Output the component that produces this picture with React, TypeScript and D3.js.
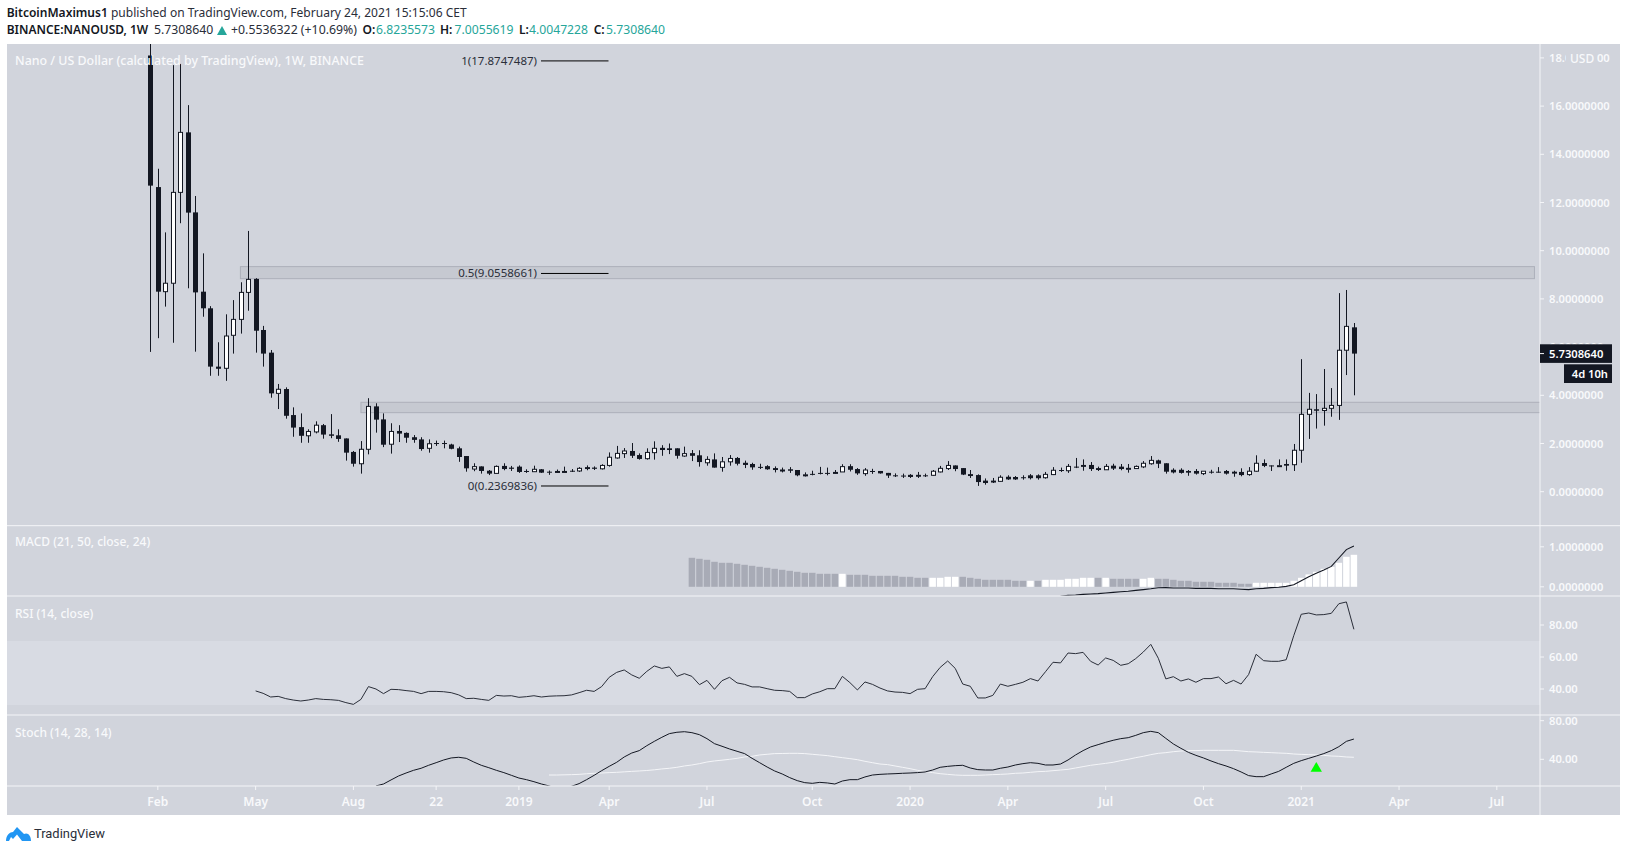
import React from "react";
import * as d3 from "d3";

const opens = [18.1,12.64,8.3,8.65,12.42,14.91,11.59,8.3,7.61,5.19,
5.12,6.49,7.15,8.27,8.83,6.71,5.77,4.08,4.26,3.18,
2.68,2.32,2.48,2.76,2.38,2.34,2.21,1.65,1.16,1.76,
3.54,3.0,1.97,2.52,2.44,2.26,2.17,1.8,2.02,2.02,
1.96,1.8,1.48,.94,1.05,.87,.76,1.07,1.0,1.04,
.86,.83,.93,.83,.83,.84,.87,.86,1.02,1.0,
.95,1.09,1.4,1.58,1.69,1.52,1.37,1.62,1.82,1.8,
1.8,1.48,1.6,1.51,1.2,1.34,1.01,1.24,1.4,1.2,
1.15,1.03,1.06,.98,.9,.93,.9,.7,.74,.78,
.78,.8,.82,1.06,.94,.75,.86,.86,.78,.68,
.67,.7,.7,.68,.68,.82,.96,1.09,.98,.73,
.69,.46,.46,.43,.62,.61,.6,.68,.68,.58,
.71,.9,.87,1.04,1.11,1.11,.98,.91,1.08,1.04,
.97,.96,1.03,1.16,1.3,1.18,.91,.91,.86,.86,
.75,.83,.83,.86,.83,.82,.71,.85,1.19,1.09,
1.08,1.15,1.12,1.72,3.21,3.42,3.37,3.46,3.58,5.87,6.82];
const closes = [12.7,8.3,8.65,12.42,14.91,11.58,8.27,7.61,5.19,5.1,
6.46,7.15,8.27,8.81,6.68,5.73,4.08,4.25,3.15,2.66,
2.32,2.5,2.76,2.37,2.32,2.19,1.62,1.16,1.76,3.54,
2.99,1.95,2.5,2.41,2.24,2.15,1.77,1.99,2.0,1.98,
1.78,1.44,.97,1.04,.86,.75,1.05,.94,.95,.82,
.84,.93,.79,.8,.84,.84,.83,.97,.94,.95,
1.09,1.43,1.59,1.69,1.49,1.36,1.63,1.8,1.73,1.73,
1.49,1.58,1.49,1.23,1.34,1.0,1.24,1.38,1.16,1.11,
1.01,1.02,.93,.9,.9,.87,.68,.7,.71,.74,
.76,.8,1.04,.91,.76,.9,.84,.76,.67,.66,
.66,.61,.62,.67,.85,.97,1.09,.94,.71,.65,
.4,.36,.38,.6,.51,.51,.58,.56,.56,.72,
.89,.88,1.05,1.03,1.03,.94,.9,1.05,.96,.94,
.97,1.05,1.18,1.3,1.16,.83,.8,.78,.79,.75,
.85,.82,.82,.75,.75,.69,.85,1.18,1.07,1.07,
1.08,1.08,1.72,3.21,3.42,3.36,3.46,3.58,5.87,6.86,5.73];
const highs = [21,13.4,10.76,17.7,17.75,16.04,12.27,9.89,7.7,6.2,
7.36,7.95,8.69,10.82,8.86,6.88,5.88,4.47,4.33,3.5,
3.25,2.59,2.92,2.81,3.22,2.59,2.21,1.69,2.1,3.88,
3.67,3.25,2.84,2.76,2.46,2.35,2.26,2.17,2.12,2.12,
1.99,1.87,1.48,1.18,1.05,.9,1.09,1.18,1.07,1.09,
.93,1.08,.94,.88,.92,1.04,.94,1.02,1.09,1.05,
1.14,1.63,1.9,1.81,2.02,1.59,1.8,2.09,1.93,2.0,
1.8,1.87,1.73,1.72,1.47,1.59,1.44,1.52,1.44,1.29,
1.2,1.16,1.1,1.05,1.0,1.02,.9,.8,.87,1.03,
1.0,.9,1.14,1.14,.98,.98,.95,.86,.78,.76,
.75,.73,.82,.75,.9,1.07,1.27,1.09,.98,.9,
.72,.55,.57,.68,.68,.65,.68,.73,.72,.82,
1.02,1.0,1.15,1.4,1.34,1.23,1.04,1.15,1.16,1.15,
1.15,1.09,1.27,1.48,1.33,1.18,.97,.97,.9,.94,
.85,.91,1.02,.9,.87,.97,1.02,1.51,1.34,1.09,
1.34,1.34,1.98,5.5,4.1,4.05,5.09,4.3,8.24,8.37,7.0];
const lows = [5.8,6.37,7.68,6.18,11.14,8.44,5.81,7.26,4.81,4.81,
4.6,5.73,6.56,7.51,5.77,5.19,3.9,3.43,3.03,2.28,
2.03,2.03,2.42,2.2,2.22,2.07,1.29,1.04,.75,1.55,
2.45,1.85,1.58,2.06,2.03,2.03,1.7,1.62,1.9,1.8,
1.76,1.24,.83,.85,.75,.69,.76,.89,.86,.78,
.78,.83,.78,.7,.78,.83,.82,.82,.89,.9,
.92,1.04,1.37,1.4,1.4,1.33,1.33,1.33,1.49,1.56,
1.37,1.45,1.27,1.04,1.08,1.0,.83,1.08,1.09,.98,
.91,.94,.91,.8,.8,.78,.64,.63,.68,.72,
.68,.74,.82,.84,.7,.66,.74,.75,.57,.61,
.57,.57,.57,.61,.66,.8,.9,.85,.69,.57,
.24,.29,.36,.42,.49,.49,.5,.51,.5,.54,
.69,.82,.78,.98,.87,.86,.86,.9,.9,.89,
.79,.96,.98,1.12,.98,.75,.76,.75,.66,.71,
.69,.75,.79,.71,.62,.64,.66,.83,1.02,.86,
1.04,.87,.86,1.2,2.19,2.62,2.74,3.11,2.98,4.84,4.0];

const macdHistStart = 72;
const macdHist = [.725,.7,.675,.625,.6,.6,.575,.55,.525,.5,.475,.45,.425,.4,.375,.35,.35,.325,.325,.325,.325,
.3,.3,.3,.275,.275,.275,.275,.25,.25,.225,.225,.225,.225,.25,.25,.25,.225,.2,.175,.175,.175,.175,.15,.15,.15,.15,
.175,.175,.175,.2,.2,.225,.225,.225,.225,.2,.2,.2,.2,.2,.225,.2,.2,.175,.15,.15,.125,.125,.125,.1,.1,.1,.075,.075,
.1,.1,.1,.1,.1,.15,.225,.31,.375,.45,.5,.6,.75,.8];
// true = rising histogram bar drawn white
const macdWhite = new Set([92,104,105,106,107,117,119,120,121,122,123,124,125,127,132,133,147,148,149,150,151,152,153,154,155,156,157,158,159,160]);
const macdLineStart = 120;
const macdLine = [-.26,-.24,-.215,-.205,-.19,-.18,-.17,-.155,-.14,-.125,-.11,-.09,-.07,-.05,-.025,-.02,-.03,-.03,-.03,-.04,-.04,-.04,-.05,-.05,-.05,-.06,-.07,-.05,-.04,-.02,-.01,.01,.05,.15,.25,.34,.42,.51,.72,.93,1.02];

const rsiStart = 14;
const rsi = [38.8,37.3,35.0,35.4,34.0,33.1,32.5,33.1,34.0,33.5,33.3,32.9,31.5,30.4,33.5,41.5,40.0,37.1,39.8,39.6,39.0,38.5,37.1,38.5,38.5,38.3,37.7,36.3,34.0,34.2,33.5,32.9,36.0,35.6,35.8,34.8,35.2,35.8,35.0,35.5,35.7,35.8,36.3,37.7,39.2,38.5,41.5,47.3,50.4,51.9,48.8,46.7,51.0,54.4,52.9,53.8,47.9,49.6,47.9,42.7,45.4,39.8,45.2,47.3,43.8,42.9,41.3,41.3,40.2,39.2,39.0,38.5,34.6,34.6,36.9,38.3,40.2,40.2,
47.9,44.0,39.4,44.4,42.9,40.6,38.8,38.1,37.9,37.1,39.8,40.2,47.7,53.5,57.5,52.9,43.1,41.7,34.4,34.4,36.0,43.1,41.7,42.9,44.2,46.5,45.0,50.8,56.7,56.3,62.5,62.1,62.9,57.3,55.0,59.4,57.9,54.8,55.8,59.0,63.1,67.9,59.2,46.3,47.7,45.0,46.3,44.2,46.5,46.5,47.5,43.3,45.4,43.1,49.0,61.7,57.7,57.3,57.3,58.3,73.3,86.7,87.5,86.3,86.5,87.3,93.3,94.4,77.3];

const stochKStart = 30;
const stochK = [12.4,14.4,18.6,22.7,25.8,28.6,30.7,33.8,36.5,39.3,41.4,42.1,41.0,37.2,33.8,31.3,28.6,26.2,23.4,20.6,18.9,16.8,14.4,12.4,9.9,9.9,12.0,14.8,18.9,23.4,28.2,32.7,36.9,42.4,46.5,49.0,54.1,58.6,62.8,66.6,68.0,68.6,67.6,65.5,61.4,56.2,53.5,50.7,48.3,45.9,41.0,36.5,32.0,27.9,24.8,21.0,17.9,15.8,15.1,16.1,15.5,14.4,17.5,18.9,18.9,21.7,23.7,24.4,
24.8,25.1,25.5,25.8,26.2,26.9,28.9,31.7,32.7,33.4,33.8,31.0,29.3,28.9,28.9,30.7,32.0,34.1,35.5,36.5,35.8,34.1,34.1,35.1,39.3,44.5,49.0,52.8,55.2,57.6,59.7,61.4,62.4,64.8,67.6,69.0,67.6,61.7,55.9,51.4,47.2,44.1,41.4,38.3,35.5,33.1,30.3,26.9,23.1,22.0,22.0,24.8,27.5,31.7,35.8,38.6,41.0,43.4,45.9,49.0,53.1,58.6,61.0];
const stochDStart = 53;
const stochD = [23.7,23.7,23.9,24.1,24.4,25.0,25.5,25.8,26.2,26.5,27.0,27.5,27.9,28.4,29.1,30.0,30.7,31.7,33.1,34.1,35.5,37.2,38.3,39.1,40.0,41.0,42.4,43.1,44.5,45.2,45.9,46.0,46.2,46.2,45.9,45.2,44.5,43.8,42.7,41.7,40.7,39.6,37.9,36.5,35.1,
34.5,33.1,31.7,30.3,28.6,27.2,26.2,25.1,24.4,23.7,23.4,23.4,23.4,23.7,24.1,24.4,24.8,25.5,25.8,26.5,27.2,27.5,28.2,28.9,29.6,31.0,32.4,33.8,34.8,35.8,36.9,38.6,40.0,41.7,43.1,44.8,46.2,46.9,47.9,48.6,49.0,49.0,49.3,49.3,49.3,49.3,49.3,48.6,47.9,47.6,47.2,46.9,46.5,46.2,45.5,45.1,44.8,44.5,44.1,43.4,43.1,42.4,42.1];
const stochSignalBars = [155];

const priceTicks = [0,2,4,6,8,10,12,14,16,18];
const macdTicks = [0,1];
const rsiTicks = [40,60,80];
const stochTicks = [40,80];
const timeTicks: [number,string][] = [[1,"Feb"],[14,"May"],[27,"Aug"],[38,"22"],[49,"2019"],[61,"Apr"],[74,"Jul"],[88,"Oct"],[101,"2020"],[114,"Apr"],[127,"Jul"],[140,"Oct"],[153,"2021"],[166,"Apr"],[179,"Jul"]];
const fibLevels: [string,number][] = [["1",17.8747487],["0.5",9.0558661],["0",0.2369836]];
const zones = [{lo:8.84,hi:9.34,from:11.98,to:184},{lo:3.28,hi:3.71,from:28,to:185}];
const lastClose = 5.7308640;

const BG="#d1d4dc", DARK="#131722", TXT="#f8f9fb", SEP="#f4f5f8", GRAY="#a8abb6";
const FONT="'Noto Sans', sans-serif";
const L=7,R=1620,AX=1540,TOP=44,BOT=815;
const paneMain={t:44,b:525.7}, paneMacd={t:526,b:596}, paneRsi={t:596.5,b:715}, paneStoch={t:715.5,b:786};

const x=d3.scaleLinear().domain([0,160]).range([150.3,1353.9]);
const y=d3.scaleLinear().domain([0,18]).range([491.7,57.9]);
const yMacd=d3.scaleLinear().domain([0,1]).range([586.8,546.8]);
const yRsi=d3.scaleLinear().domain([40,80]).range([689,625]);
const yStoch=d3.scaleLinear().domain([40,80]).range([759.3,720.7]);
const fmt=d3.format(".7f"), fmt2=d3.format(".2f");

const series=(vals:number[],start:number,sc:(v:number)=>number)=>
  d3.line<number>().x((_,i)=>x(i+start)).y(v=>sc(v))(vals)||"";

function AxisLabels({ticks,sc,f}:{ticks:number[];sc:(v:number)=>number;f:(v:number)=>string}){
  return <g>{ticks.map(t=><g key={t}>
    <line x1={AX} x2={AX+4} y1={sc(t)} y2={sc(t)} stroke={SEP}/>
    <text x={1549} y={sc(t)+4} fontSize={11.2} fill={TXT} fontFamily={FONT} fontWeight={600}>{f(t)}</text>
  </g>)}</g>;
}

export default function App(){
  const barW=5;
  return <svg width={1627} height={852} style={{position:"absolute",left:0,top:0,background:"#fff"}}>
    <defs>
      <clipPath id="cm"><rect x={L} y={paneMain.t} width={AX-L} height={paneMain.b-paneMain.t}/></clipPath>
      <clipPath id="cd"><rect x={L} y={paneMacd.t} width={AX-L} height={paneMacd.b-paneMacd.t}/></clipPath>
      <clipPath id="cs"><rect x={L} y={paneStoch.t} width={AX-L} height={paneStoch.b-paneStoch.t}/></clipPath>
    </defs>
    <text x={6.7} y={17} fontSize={12} fontFamily={FONT} fill="#2a2e39" textLength={460} lengthAdjust="spacingAndGlyphs"><tspan fontWeight={600} fill={DARK}>BitcoinMaximus1</tspan> published on TradingView.com, February 24, 2021 15:15:06 CET</text>
    <text x={6.7} y={34} fontSize={12} fontFamily={FONT} fill={DARK} textLength={141.5} lengthAdjust="spacingAndGlyphs" fontWeight={600}>BINANCE:NANOUSD, 1W</text>
    <text x={154} y={34} fontSize={12} fontFamily={FONT} fill="#2a2e39" textLength={59.4} lengthAdjust="spacingAndGlyphs">5.7308640</text>
    <path d="M217,35 L222,26 L227,35 Z" fill="#26a69a"/>
    <text x={231} y={34} fontSize={12} fontFamily={FONT} fill="#2a2e39" textLength={126} lengthAdjust="spacingAndGlyphs">+0.5536322 (+10.69%)</text>
    {[[362.5,"O:",376,"6.8235573"],[440,"H:",454.5,"7.0055619"],[519,"L:",529,"4.0047228"],[593.7,"C:",606,"5.7308640"]].map(([a,l,b,v])=><g key={l as string}>
      <text x={a as number} y={34} fontSize={12} fontFamily={FONT} fontWeight={600} fill={DARK}>{l}</text>
      <text x={b as number} y={34} fontSize={12} fontFamily={FONT} fill="#26a69a" textLength={59} lengthAdjust="spacingAndGlyphs">{v}</text>
    </g>)}

    <rect x={L} y={TOP} width={R-L} height={BOT-TOP} fill={BG}/>
    <rect x={L} y={yRsi(70)} width={AX-L} height={yRsi(30)-yRsi(70)} fill="#d8dbe3"/>

    <g clipPath="url(#cm)">
      {zones.map((z,i)=><rect key={i} x={x(z.from)} y={y(z.hi)} width={x(z.to)-x(z.from)} height={y(z.lo)-y(z.hi)} fill="#787b86" fillOpacity={0.12} stroke="#adb0ba" strokeWidth={1}/>)}
      {opens.map((o,i)=>{
        const c=closes[i], up=c>=o, top=y(Math.max(o,c)), bot=y(Math.min(o,c)), px=Math.round(x(i))+0.5;
        const h=Math.max(bot-top,1);
        return <g key={i}>
          <line x1={px} x2={px} y1={y(highs[i])} y2={y(lows[i])} stroke={DARK} strokeWidth={1}/>
          {up?<rect x={px-2} y={top} width={4} height={h} fill="#fff" stroke={DARK} strokeWidth={1}/>
             :<rect x={px-2.5} y={top} width={barW} height={h} fill={DARK}/>}
        </g>;
      })}
      {fibLevels.map(([n,v])=><g key={n}>
        <line x1={541} x2={608.5} y1={y(v)} y2={y(v)} stroke="#000" strokeWidth={1}/>
        <text x={537} y={y(v)+4} textAnchor="end" fontSize={11.5} fontFamily={FONT} fill="#2a2e39">{`${n}(${v.toFixed(7)})`}</text>
      </g>)}
    </g>
    <text x={15} y={65} fontSize={12} fontFamily={FONT} fontWeight={500} fill={TXT} textLength={349} lengthAdjust="spacingAndGlyphs">Nano / US Dollar (calculated by TradingView), 1W, BINANCE</text>

    <g clipPath="url(#cd)">
      {macdHist.map((v,i)=>{const k=i+macdHistStart;return <rect key={k} x={x(k)-3.25} y={yMacd(v)} width={6.5} height={yMacd(0)-yMacd(v)} fill={macdWhite.has(k)?"#ffffff":GRAY}/>;})}
      <path d={series(macdLine,macdLineStart,yMacd)} fill="none" stroke="#131722" strokeWidth={1.1}/>
    </g>
    <text x={15} y={546} fontSize={12} fontFamily={FONT} fontWeight={500} fill={TXT}>MACD (21, 50, close, 24)</text>

    <path d={series(rsi,rsiStart,yRsi)} fill="none" stroke="#2a2e39" strokeWidth={1}/>
    <text x={15} y={618} fontSize={12} fontFamily={FONT} fontWeight={500} fill={TXT}>RSI (14, close)</text>

    <g clipPath="url(#cs)">
      <path d={series(stochD,stochDStart,yStoch)} fill="none" stroke="#f4f5f8" strokeWidth={1}/>
      <path d={series(stochK,stochKStart,yStoch)} fill="none" stroke="#131722" strokeWidth={1}/>
      {stochSignalBars.map(k=><path key={k} d={d3.symbol().type(d3.symbolTriangle).size(56)()||""} transform={`translate(${x(k)},768.5)`} fill="#00ff00"/>)}
    </g>
    <text x={15} y={737} fontSize={12} fontFamily={FONT} fontWeight={500} fill={TXT}>Stoch (14, 28, 14)</text>

    {[paneMain.b,paneMacd.b,paneRsi.b,paneStoch.b].map(v=><line key={v} x1={L} x2={R} y1={v} y2={v} stroke={SEP}/>)}
    <line x1={AX} x2={AX} y1={TOP} y2={BOT} stroke={SEP}/>

    {timeTicks.map(([k,l])=><g key={k}>
      <line x1={x(k)} x2={x(k)} y1={786} y2={790} stroke={SEP}/>
      <text x={x(k)} y={806} textAnchor="middle" fontSize={12} fontFamily={FONT} fontWeight={600} fill={TXT}>{l}</text>
    </g>)}

    <AxisLabels ticks={priceTicks} sc={y} f={fmt}/>
    <rect x={1566} y={50} width={31} height={16} fill={BG}/>
    <text x={1570} y={63} fontSize={12} fontFamily={FONT} fontWeight={500} fill={TXT}>USD</text>
    <AxisLabels ticks={macdTicks} sc={yMacd} f={fmt}/>
    <AxisLabels ticks={rsiTicks} sc={yRsi} f={fmt2}/>
    <AxisLabels ticks={stochTicks} sc={yStoch} f={fmt2}/>

    <rect x={1540} y={y(lastClose)-9.3} width={72} height={18.6} fill={DARK}/>
    <line x1={1540} x2={1544} y1={y(lastClose)} y2={y(lastClose)} stroke={SEP}/>
    <text x={1549} y={y(lastClose)+4} fontSize={11.2} fontFamily={FONT} fontWeight={600} fill="#fff">{fmt(lastClose)}</text>
    <rect x={1564} y={364.3} width={48} height={18.7} fill={DARK}/>
    <text x={1608} y={378} textAnchor="end" fontSize={11.2} fontFamily={FONT} fontWeight={600} fill="#fff">4d 10h</text>

    <path d="M6,841 C6,835 10,832 13,832 L17,827 L24,834 C28,832 31,836 31,841 L22,841 L17,834.5 L13,839 L11,837 L9,841 Z" fill="#2196f3"/>
    <text x={34} y={838} fontSize={13} fontFamily="Roboto, sans-serif" fontWeight={400} fill="#2a2e39" textLength={71} lengthAdjust="spacingAndGlyphs">TradingView</text>
  </svg>;
}
